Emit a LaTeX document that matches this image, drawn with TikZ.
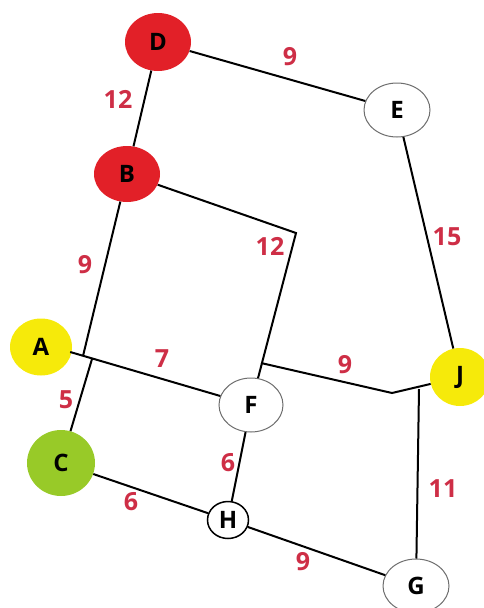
\documentclass[tikz,border=0pt]{standalone}
\usepackage{fontspec}
\setmainfont{Open Sans}
\usetikzlibrary{shapes.geometric}
\definecolor{nodered}{RGB}{226,32,40}
\definecolor{nodeyellow}{RGB}{246,234,10}
\definecolor{nodegreen}{RGB}{152,202,40}
\definecolor{labred}{RGB}{206,46,70}
\definecolor{rimgray}{RGB}{110,110,110}
\tikzset{
  vert/.style={ellipse, inner sep=0pt, font=\bfseries\fontsize{24}{24}\selectfont, text=black},
  whitev/.style={vert, draw=rimgray, line width=1pt, fill=white},
  edge/.style={line width=2pt, black},
  wlab/.style={font=\bfseries\fontsize{25}{25}\selectfont, text=labred, inner sep=0pt}
}
\begin{document}
\begin{tikzpicture}[x=1pt,y=-1pt]
\useasboundingbox (0,0) rectangle (484,608);
\clip (0,0) rectangle (484,608);
% helper coordinates
\coordinate (jBA) at (83,356);
\coordinate (jCA) at (92,359);
\coordinate (kBF) at (296,233);
\coordinate (jF) at (261,363);
\coordinate (kJ) at (392,393);
\coordinate (jJ) at (419,389);
% nodes
\node[vert, fill=nodered, minimum width=66pt, minimum height=58pt] (D) at (158,42) {D};
\node[whitev, minimum width=66pt, minimum height=54pt] (E) at (397,110) {E};
\node[vert, fill=nodered, minimum width=66pt, minimum height=56pt] (B) at (127,174) {B};
\node[vert, fill=nodeyellow, minimum width=62pt, minimum height=57pt] (A) at (41,347) {A};
\node[vert, fill=nodegreen, minimum width=68pt, minimum height=66pt] (C) at (61,463) {C};
\node[whitev, minimum width=64pt, minimum height=54pt] (F) at (251,405) {F};
\node[whitev, draw=black, line width=1.5pt, minimum width=41pt, minimum height=37pt] (H) at (228,520) {H};
\node[whitev, minimum width=66pt, minimum height=54pt] (G) at (416,586) {G};
\node[vert, fill=nodeyellow, minimum width=60pt, minimum height=58pt] (J) at (460,377) {J};
% edges
\draw[edge] (D) -- (E);
\draw[edge] (D) -- (B);
\draw[edge] (B) -- (jBA);
\draw[edge] (A.east) ++(-2,5) coordinate (aE) -- (F);
\draw[edge] (C) -- (jCA);
\draw[edge] (B) -- (kBF) -- (F);
\draw[edge] (jF) -- (kJ) -- (J);
\draw[edge] (jJ) -- (G);
\draw[edge] (E) -- (J);
\draw[edge] (C) -- (H);
\draw[edge] (F) -- (H);
\draw[edge] (H) -- (G);
% weights
\node[wlab] (w1) at (290,57) {9};
\node[wlab] (w2) at (118,99) {12};
\node[wlab] (w3) at (85,265) {9};
\node[wlab] (w4) at (270,246) {12};
\node[wlab] (w5) at (447,237) {15};
\node[wlab] (w6) at (162,359) {7};
\node[wlab] (w7) at (345,365) {9};
\node[wlab] (w8) at (66,400) {5};
\node[wlab] (w9) at (228,463) {6};
\node[wlab] (w10) at (131,502) {6};
\node[wlab] (w11) at (443,489) {11};
\node[wlab] (w12) at (303,562) {9};
\end{tikzpicture}
\end{document}
